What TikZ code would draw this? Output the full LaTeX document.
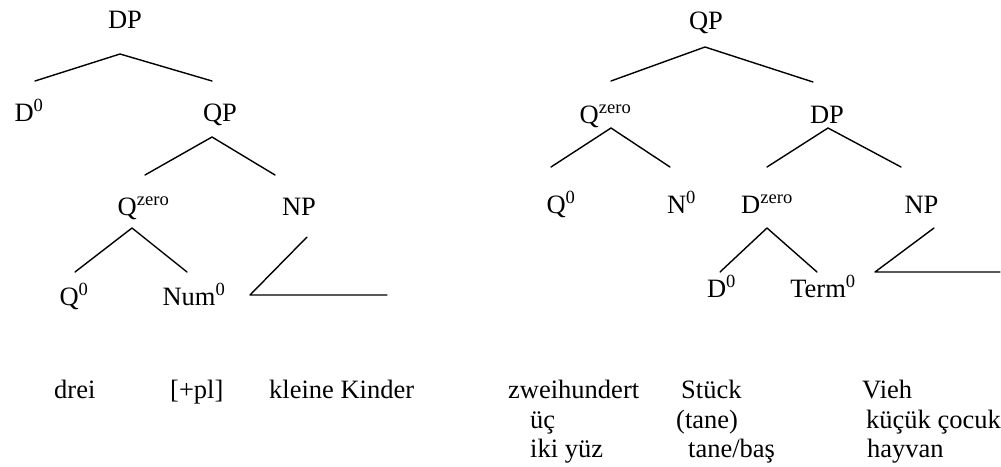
\documentclass[tikz,border=0pt]{standalone}
\usepackage{fontspec}
\setmainfont{Liberation Serif}
\begin{document}
\begin{tikzpicture}[x=1pt,y=-1pt,
  lbl/.style={inner sep=0pt, anchor=base, font=\fontsize{26.5}{31}\selectfont},
  word/.style={inner sep=0pt, anchor=base west, font=\fontsize{26.5}{31}\selectfont},
  branch/.style={line width=1.4pt, line cap=round, line join=round}]
\useasboundingbox (0,0) rectangle (1001,466);
% ---------- left tree ----------
\node[lbl] (lDP) at (125,28) {DP};
\node[lbl] (lD0) at (29,121) {D\textsuperscript{0}};
\node[lbl] (lQP) at (220,121) {QP};
\node[lbl] (lQz) at (143.5,215) {Q\textsuperscript{zero}};
\node[lbl] (lNP) at (299,215) {NP};
\node[lbl] (lQ0) at (74,305) {Q\textsuperscript{0}};
\node[lbl] (lNum) at (194,305) {Num\textsuperscript{0}};
\node[word] (drei) at (54,398) {drei};
\node[word] (pl) at (170,398) {[+pl]};
\node[word] (kk) at (269,398) {kleine Kinder};
\coordinate (la1) at (120,54);
\coordinate (le1l) at (35,81);
\coordinate (le1r) at (212,81);
\coordinate (la2) at (212,137);
\coordinate (le2l) at (145,175);
\coordinate (le2r) at (275,175);
\coordinate (la3) at (132,228);
\coordinate (le3l) at (75,272);
\coordinate (le3r) at (187,272);
\coordinate (lt1) at (307,237);
\coordinate (lt2) at (250,295);
\coordinate (lt3) at (387,295);
\draw[branch] (le1l) -- (la1) -- (le1r);
\draw[branch] (le2l) -- (la2) -- (le2r);
\draw[branch] (le3l) -- (la3) -- (le3r);
\draw[branch] (lt1) -- (lt2) -- (lt3);
% ---------- right tree ----------
\node[lbl] (rQP) at (706,29) {QP};
\node[lbl] (rQz) at (605.5,123) {Q\textsuperscript{zero}};
\node[lbl] (rDP) at (827,123) {DP};
\node[lbl] (rQ0) at (561,213) {Q\textsuperscript{0}};
\node[lbl] (rN0) at (681.5,213) {N\textsuperscript{0}};
\node[lbl] (rDz) at (767,213) {D\textsuperscript{zero}};
\node[lbl] (rNP) at (921.5,213) {NP};
\node[lbl] (rD0) at (721.5,297) {D\textsuperscript{0}};
\node[lbl] (rTerm) at (823,297) {Term\textsuperscript{0}};
\coordinate (ra1) at (705,47);
\coordinate (re1l) at (611,81);
\coordinate (re1r) at (813,82);
\coordinate (ra2) at (611,128);
\coordinate (re2l) at (551,167);
\coordinate (re2r) at (670,167);
\coordinate (ra3) at (828,128);
\coordinate (re3l) at (767,167);
\coordinate (re3r) at (901,167);
\coordinate (ra4) at (767,228);
\coordinate (re4l) at (720,272);
\coordinate (re4r) at (817,272);
\coordinate (rt1) at (934,228);
\coordinate (rt2) at (875,272);
\coordinate (rt3) at (1000,272);
\draw[branch] (re1l) -- (ra1) -- (re1r);
\draw[branch] (re2l) -- (ra2) -- (re2r);
\draw[branch] (re3l) -- (ra3) -- (re3r);
\draw[branch] (re4l) -- (ra4) -- (re4r);
\draw[branch] (rt1) -- (rt2) -- (rt3);
% ---------- right words ----------
\node[word] (zw) at (508,398) {zweihundert};
\node[word] (st) at (681,398) {Stück};
\node[word] (vi) at (862,398) {Vieh};
\node[word] (uc) at (530,428) {üç};
\node[word] (ta) at (676,428) {(tane)};
\node[word] (kc) at (866,428) {küçük çocuk};
\node[word] (iy) at (530,457) {iki yüz};
\node[word] (tb) at (688,457) {tane/baş};
\node[word] (hy) at (867,457) {hayvan};
\end{tikzpicture}
\end{document}
